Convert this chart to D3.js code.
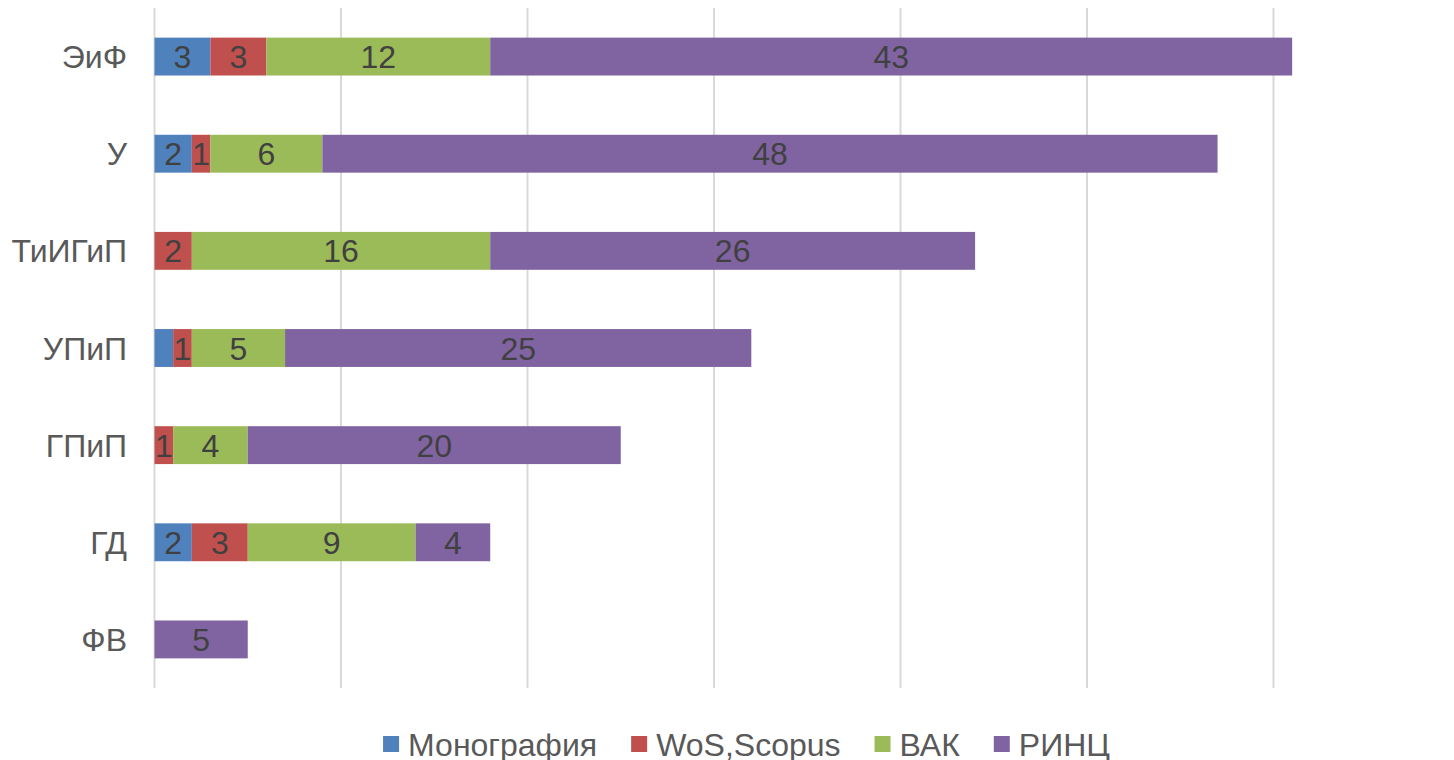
<!DOCTYPE html>
<html>
<head>
<meta charset="utf-8">
<script src="https://cdn.jsdelivr.net/npm/d3@7"></script>
<style>
  body { margin: 0; background: #fff; }
  svg { display: block; font-family: "Liberation Sans", Arial, sans-serif; }
</style>
</head>
<body>
<svg id="chart"></svg>
<script>
// categories top to bottom
const categories = ["ЭиФ", "У", "ТиИГиП", "УПиП", "ГПиП", "ГД", "ФВ"];
const seriesNames = ["Монография", "WoS,Scopus", "ВАК", "РИНЦ"];
const seriesColors = ["#4f81bd", "#c0504d", "#9bbb59", "#8064a2"];

const monografia = [3, 2, 0, 1, 0, 2, 0];
const wosScopus  = [3, 1, 2, 1, 1, 3, 0];
const vak        = [12, 6, 16, 5, 4, 9, 0];
const rinc       = [43, 48, 26, 25, 20, 4, 5];

// labels that the original chart does not show ("series|category")
const hiddenLabels = ["Монография|УПиП"];

const xTicks = [0, 10, 20, 30, 40, 50, 60, 70];

const width = 1454, height = 760;
const svg = d3.select("#chart").attr("width", width).attr("height", height);

const table = categories.map((c, i) => ({
  cat: c,
  "Монография": monografia[i],
  "WoS,Scopus": wosScopus[i],
  "ВАК": vak[i],
  "РИНЦ": rinc[i]
}));

const stack = d3.stack().keys(seriesNames)(table);

const x = d3.scaleLinear().domain([0, 70]).range([154.5, 1460]);
const y = d3.scaleBand().domain(categories).range([8, 688])
  .paddingInner(0.61).paddingOuter(0.305);
const color = d3.scaleOrdinal().domain(seriesNames).range(seriesColors);

// gridlines
svg.append("g")
  .selectAll("line")
  .data(xTicks)
  .join("line")
  .attr("x1", d => x(d)).attr("x2", d => x(d))
  .attr("y1", 8).attr("y2", 688)
  .attr("stroke", "#d9d9d9")
  .attr("stroke-width", 2);

// bars
const layers = svg.append("g")
  .selectAll("g")
  .data(stack)
  .join("g")
  .attr("fill", d => color(d.key));

layers.selectAll("rect")
  .data(d => d.map(p => ({ key: d.key, p })))
  .join("rect")
  .attr("x", d => x(d.p[0]))
  .attr("y", d => y(d.p.data.cat))
  .attr("width", d => x(d.p[1]) - x(d.p[0]))
  .attr("height", y.bandwidth());

// value labels
layers.selectAll("text")
  .data(d => d.map(p => ({ key: d.key, p }))
    .filter(d => d.p[1] - d.p[0] > 0 && !hiddenLabels.includes(d.key + "|" + d.p.data.cat)))
  .join("text")
  .attr("x", d => (x(d.p[0]) + x(d.p[1])) / 2)
  .attr("y", d => y(d.p.data.cat) + y.bandwidth() / 2)
  .attr("dy", "0.36em")
  .attr("text-anchor", "middle")
  .attr("font-size", "32px")
  .attr("fill", "#404040")
  .text(d => d.p[1] - d.p[0]);

// category labels
svg.append("g")
  .selectAll("text")
  .data(categories)
  .join("text")
  .attr("x", 127)
  .attr("y", d => y(d) + y.bandwidth() / 2)
  .attr("dy", "0.36em")
  .attr("text-anchor", "end")
  .attr("font-size", "32px")
  .attr("fill", "#595959")
  .text(d => d);

// legend
const legend = svg.append("g");
const items = legend.selectAll("g")
  .data(seriesNames)
  .join("g");
items.append("rect")
  .attr("width", 16).attr("height", 16)
  .attr("y", -8)
  .attr("fill", d => color(d));
items.append("text")
  .attr("x", 25)
  .attr("dy", "0.36em")
  .attr("font-size", "32px")
  .attr("fill", "#595959")
  .text(d => d);

let offset = 0;
const positions = [];
items.each(function () {
  const w = d3.select(this).select("text").node().getComputedTextLength();
  positions.push(offset);
  offset += 25 + w + 34;
});
const total = offset - 34;
const startX = 746.5 - total / 2;
items.attr("transform", (d, i) => `translate(${startX + positions[i]},744)`);
</script>
</body>
</html>
